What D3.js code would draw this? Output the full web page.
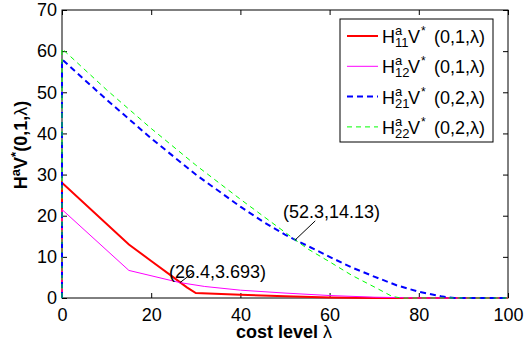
<!DOCTYPE html>
<html>
<head>
<meta charset="utf-8">
<script src="https://cdn.jsdelivr.net/npm/d3@7"></script>
<style>
  body { margin: 0; background: #fff; }
  text { font-family: "Liberation Sans", Arial, sans-serif; fill: #000; }
</style>
</head>
<body>
<div id="chart"></div>
<script>
// series: [lambda, value]
var h11 = [[0,0],[0,28],[15,13],[20,9],[25,5],[28,2.6],[30,1.2],[40,0.8],[50,0.45],[60,0.15],[70,0],[100,0]];
var h12 = [[0,0],[0,21.5],[15,6.7],[26.4,3.75],[32,2.8],[40,1.9],[50,1.2],[60,0.6],[70,0.2],[80,0],[100,0]];
var h21 = [[0,0],[0,58],[10,48.2],[20,38.8],[30,30],[40,22.2],[45,18.6],[50,15.4],[52.3,14.13],[55,12.7],[60,10],[65,7.4],[70,5.2],[75,3.1],[80,1.5],[85,0.4],[88,0],[100,0]];
var h22 = [[0,0],[0,60.6],[10,50.6],[20,41.2],[30,32.3],[40,24],[52.3,14.13],[55,12],[60,8.8],[65,5.5],[70,2.7],[74,0.4],[76,0],[100,0]];

var xTicks = [0,20,40,60,80,100];
var yTicks = [0,10,20,30,40,50,60,70];
var subs = ['11','12','21','22'];
var args = ['(0,1,\u03bb)','(0,1,\u03bb)','(0,2,\u03bb)','(0,2,\u03bb)'];
var notes = [{x:26.4, y:3.693, label:'(26.4,3.693)'}, {x:52.3, y:14.13, label:'(52.3,14.13)'}];

function drawChart(){
  var styles = [
    {color:'#ff0000', w:2, dash:null},
    {color:'#ff00ff', w:1, dash:null},
    {color:'#0000ff', w:2, dash:'6,4'},
    {color:'#00ff00', w:1, dash:'5,4'}
  ];

  var W = 526, H = 345;
  var pad = {left: 62, right: 508, top: 10, bottom: 298};

  var svg = d3.select('#chart').append('svg')
    .attr('width', W).attr('height', H);

  var x = d3.scaleLinear().domain([0,100]).range([pad.left,pad.right]);
  var y = d3.scaleLinear().domain([0,70]).range([pad.bottom,pad.top]);

  // ticks on all four sides, pointing in
  svg.append('g').attr('transform','translate(0,'+pad.bottom+')')
    .call(d3.axisBottom(x).tickValues(xTicks).tickSize(-5).tickPadding(10).tickFormat(d3.format('d')));
  svg.append('g').attr('transform','translate(0,'+pad.top+')')
    .call(d3.axisTop(x).tickValues(xTicks).tickSize(-5).tickFormat(''));
  svg.append('g').attr('transform','translate('+pad.left+',0)')
    .call(d3.axisLeft(y).tickValues(yTicks).tickSize(-5).tickPadding(5).tickFormat(d3.format('d')));
  svg.append('g').attr('transform','translate('+pad.right+',0)')
    .call(d3.axisRight(y).tickValues(yTicks).tickSize(-5).tickFormat(''));

  svg.selectAll('.domain').remove();
  svg.selectAll('.tick line').attr('stroke','#000');
  svg.selectAll('.tick text').style('font-size','18px').attr('fill','#000')
    .style('font-family','"Liberation Sans", Arial, sans-serif');

  svg.append('rect')
    .attr('x',pad.left).attr('y',pad.top)
    .attr('width',pad.right-pad.left).attr('height',pad.bottom-pad.top)
    .attr('fill','none').attr('stroke','#000').attr('stroke-width',1);

  var line = d3.line().x(function(d){ return x(d[0]); }).y(function(d){ return y(d[1]); });

  [h11,h12,h21,h22].forEach(function(s,i){
    svg.append('path')
      .datum(s)
      .attr('d', line)
      .attr('fill','none')
      .attr('stroke', styles[i].color)
      .attr('stroke-width', styles[i].w)
      .attr('stroke-dasharray', styles[i].dash);
  });

  // annotations
  var offs = [[13,-10],[20,-19]];
  notes.forEach(function(n,i){
    var px = x(n.x), py = y(n.y);
    svg.append('line')
      .attr('x1',px).attr('y1',py)
      .attr('x2',px+offs[i][0]).attr('y2',py+offs[i][1])
      .attr('stroke','#000').attr('stroke-width',1);
  });
  svg.append('text').attr('x',169).attr('y',278).style('font-size','18px').text(notes[0].label);
  svg.append('text').attr('x',283).attr('y',218).style('font-size','18px').text(notes[1].label);

  // legend
  var lg = svg.append('g');
  lg.append('rect')
    .attr('x',340).attr('y',19).attr('width',153).attr('height',123)
    .attr('fill','#fff').attr('stroke','#000').attr('stroke-width',1);

  subs.forEach(function(s,i){
    var cy = 36 + i*30.3;
    lg.append('line')
      .attr('x1',347).attr('x2',378).attr('y1',cy).attr('y2',cy)
      .attr('stroke',styles[i].color)
      .attr('stroke-width',styles[i].w)
      .attr('stroke-dasharray',styles[i].dash);
    var t = lg.append('text').attr('y',cy+7).style('font-size','18px');
    t.append('tspan').attr('x',382).text('H');
    t.append('tspan').attr('x',395).attr('dy',-8).style('font-size','13px').text('a');
    t.append('tspan').attr('x',395).attr('dy',12).style('font-size','13px').text(s);
    t.append('tspan').attr('x',408).attr('dy',-4).text('V');
    t.append('tspan').attr('x',421).attr('dy',-8).style('font-size','12px').text('*');
    t.append('tspan').attr('x',434).attr('dy',8).text(args[i]);
  });

  // axis labels
  svg.append('text')
    .attr('x',284).attr('y',338)
    .attr('text-anchor','middle')
    .style('font-size','18px').style('font-weight','bold')
    .text('cost level ')
    .append('tspan').style('font-weight','normal').text('\u03bb');

  var yl = svg.append('text')
    .attr('transform','translate(27,145) rotate(-90)')
    .attr('text-anchor','middle')
    .style('font-size','18px').style('font-weight','bold');
  yl.append('tspan').text('H');
  yl.append('tspan').attr('dy',-7).style('font-size','13px').text('a');
  yl.append('tspan').attr('dy',7).text('V');
  yl.append('tspan').attr('dy',-7).style('font-size','13px').text('*');
  yl.append('tspan').attr('dy',7).text('(0,1,');
  yl.append('tspan').style('font-weight','normal').text('\u03bb');
  yl.append('tspan').text(')');
}

drawChart();
</script>
</body>
</html>
